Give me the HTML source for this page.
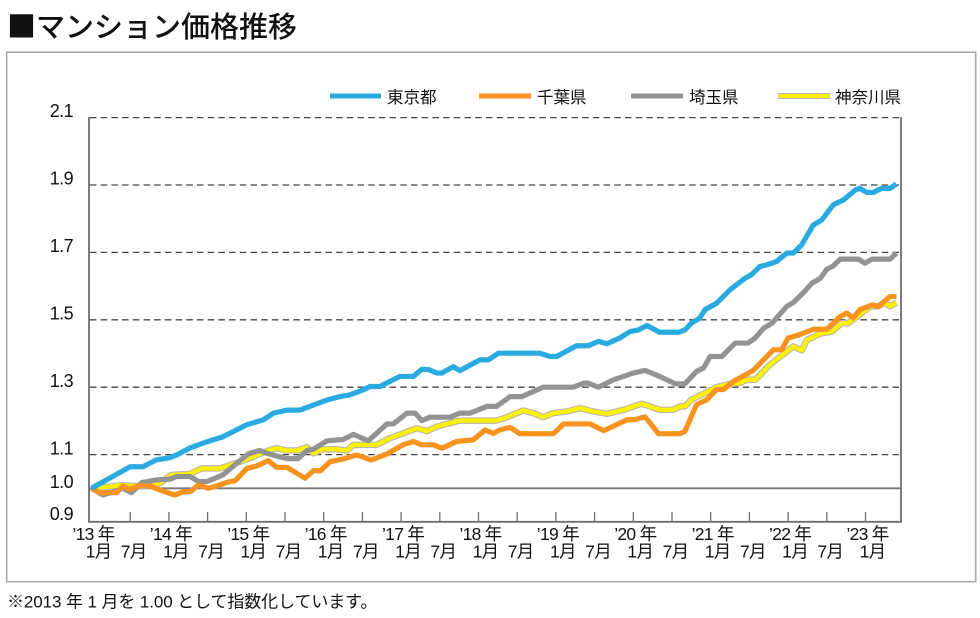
<!DOCTYPE html>
<html><head><meta charset="utf-8"><style>
html,body{margin:0;padding:0;background:#fff;}
body{width:980px;height:618px;overflow:hidden;}
svg{display:block;}
.t{font-family:"Liberation Sans","Noto Sans CJK JP",sans-serif;fill:#111;}
.s{fill:none;stroke-linejoin:round;stroke-linecap:butt;}
</style></head><body>
<svg width="980" height="618" viewBox="0 0 980 618" xmlns="http://www.w3.org/2000/svg">
<rect x="0" y="0" width="980" height="618" fill="#fff"/>
<!-- title -->
<text x="7" y="37" class="t" font-size="29" font-weight="500"><tspan font-family="Noto Sans CJK JP, sans-serif">■</tspan>マンション価格推移</text>
<!-- frame -->
<rect x="6.7" y="52.2" width="969" height="529.5" fill="none" stroke="#a8a8a8" stroke-width="1.6"/>
<!-- grid -->
<g stroke="#444" stroke-width="1.3" stroke-dasharray="6.5 4.2">
<line x1="90" y1="117.6" x2="901" y2="117.6"/>
<line x1="90" y1="185" x2="901" y2="185"/>
<line x1="90" y1="252.4" x2="901" y2="252.4"/>
<line x1="90" y1="319.8" x2="901" y2="319.8"/>
<line x1="90" y1="387.2" x2="901" y2="387.2"/>
<line x1="90" y1="454.6" x2="901" y2="454.6"/>
</g>
<line x1="89" y1="488.3" x2="901" y2="488.3" stroke="#777" stroke-width="1.8"/>
<!-- axes -->
<g stroke="#6e6e6e" stroke-width="1.8" fill="none">
<line x1="89" y1="117" x2="89" y2="522.5"/>
<line x1="88.1" y1="521.8" x2="901.9" y2="521.8"/>
<line x1="901" y1="117" x2="901" y2="522.5"/>
</g>
<g stroke="#6e6e6e" stroke-width="1.3">
<line x1="130.2" y1="512" x2="130.2" y2="522"/>
<line x1="168.9" y1="512" x2="168.9" y2="522"/>
<line x1="207.6" y1="512" x2="207.6" y2="522"/>
<line x1="246.3" y1="512" x2="246.3" y2="522"/>
<line x1="285" y1="512" x2="285" y2="522"/>
<line x1="323.7" y1="512" x2="323.7" y2="522"/>
<line x1="362.4" y1="512" x2="362.4" y2="522"/>
<line x1="401.1" y1="512" x2="401.1" y2="522"/>
<line x1="439.8" y1="512" x2="439.8" y2="522"/>
<line x1="478.5" y1="512" x2="478.5" y2="522"/>
<line x1="517.2" y1="512" x2="517.2" y2="522"/>
<line x1="555.9" y1="512" x2="555.9" y2="522"/>
<line x1="594.6" y1="512" x2="594.6" y2="522"/>
<line x1="633.3" y1="512" x2="633.3" y2="522"/>
<line x1="672" y1="512" x2="672" y2="522"/>
<line x1="710.7" y1="512" x2="710.7" y2="522"/>
<line x1="749.4" y1="512" x2="749.4" y2="522"/>
<line x1="788.1" y1="512" x2="788.1" y2="522"/>
<line x1="826.8" y1="512" x2="826.8" y2="522"/>
<line x1="865.5" y1="512" x2="865.5" y2="522"/>
</g>
<!-- y labels -->
<g class="t" font-size="18" text-anchor="end" letter-spacing="-0.6">
<text x="73" y="117">2.1</text>
<text x="73" y="184.5">1.9</text>
<text x="73" y="252">1.7</text>
<text x="73" y="319.5">1.5</text>
<text x="73" y="387">1.3</text>
<text x="73" y="454.5">1.1</text>
<text x="73" y="488">1.0</text>
<text x="73" y="520">0.9</text>
</g>
<!-- x labels -->
<g class="t" font-size="17.5" text-anchor="middle" letter-spacing="-0.7">
<text x="93.5" y="540">’13 年</text>
<text x="170.9" y="540">’14 年</text>
<text x="248.3" y="540">’15 年</text>
<text x="325.7" y="540">’16 年</text>
<text x="403.1" y="540">’17 年</text>
<text x="480.5" y="540">’18 年</text>
<text x="557.9" y="540">’19 年</text>
<text x="635.3" y="540">’20 年</text>
<text x="712.7" y="540">’21 年</text>
<text x="790.1" y="540">’22 年</text>
<text x="867.5" y="540">’23 年</text>
<text x="98.5" y="557.5">1月</text>
<text x="133.7" y="557.5">7月</text>
<text x="175.9" y="557.5">1月</text>
<text x="211.1" y="557.5">7月</text>
<text x="253.3" y="557.5">1月</text>
<text x="288.5" y="557.5">7月</text>
<text x="330.7" y="557.5">1月</text>
<text x="365.9" y="557.5">7月</text>
<text x="408.1" y="557.5">1月</text>
<text x="443.3" y="557.5">7月</text>
<text x="485.5" y="557.5">1月</text>
<text x="520.7" y="557.5">7月</text>
<text x="562.9" y="557.5">1月</text>
<text x="598.1" y="557.5">7月</text>
<text x="640.3" y="557.5">1月</text>
<text x="675.5" y="557.5">7月</text>
<text x="717.7" y="557.5">1月</text>
<text x="752.9" y="557.5">7月</text>
<text x="795.1" y="557.5">1月</text>
<text x="830.3" y="557.5">7月</text>
<text x="872.5" y="557.5">1月</text>
</g>
<!-- series -->
<g transform="matrix(6.45 0 0 -337 91.5 825.3)">
<polyline class="s" vector-effect="non-scaling-stroke" stroke="#b9b9a8" stroke-width="6.5" points="0,1 2.9,1.005 4.9,1.01 6.5,1.007 8.6,1.007 10.6,1.015 12.4,1.04 15.3,1.043 17.1,1.059 19.9,1.059 22,1.072 24.1,1.086 27.7,1.114 28.7,1.119 30.3,1.112 31.8,1.112 33.4,1.122 34.4,1.104 35.9,1.116 38,1.116 39.6,1.112 40.6,1.129 44.2,1.129 46.3,1.149 50.4,1.178 52,1.17 53.5,1.183 57.1,1.201 62.8,1.201 64.4,1.211 66.9,1.231 68.5,1.223 70,1.211 71.6,1.223 73.7,1.228 75.7,1.238 77.8,1.228 79.9,1.221 82.5,1.233 85.3,1.251 88.1,1.233 90.2,1.233 91.2,1.243 92,1.243 93,1.263 96.9,1.3 99,1.31 100.5,1.312 101.6,1.322 102.9,1.322 105.2,1.367 108.8,1.421 110.1,1.409 110.9,1.44 113,1.459 114.8,1.465 116.3,1.49 117.3,1.49 119.1,1.515 120.7,1.54 122,1.54 123,1.551 123.8,1.54 124.8,1.551"/>
<polyline class="s" vector-effect="non-scaling-stroke" stroke="#fff200" stroke-width="4.2" points="0,1 2.9,1.005 4.9,1.01 6.5,1.007 8.6,1.007 10.6,1.015 12.4,1.04 15.3,1.043 17.1,1.059 19.9,1.059 22,1.072 24.1,1.086 27.7,1.114 28.7,1.119 30.3,1.112 31.8,1.112 33.4,1.122 34.4,1.104 35.9,1.116 38,1.116 39.6,1.112 40.6,1.129 44.2,1.129 46.3,1.149 50.4,1.178 52,1.17 53.5,1.183 57.1,1.201 62.8,1.201 64.4,1.211 66.9,1.231 68.5,1.223 70,1.211 71.6,1.223 73.7,1.228 75.7,1.238 77.8,1.228 79.9,1.221 82.5,1.233 85.3,1.251 88.1,1.233 90.2,1.233 91.2,1.243 92,1.243 93,1.263 96.9,1.3 99,1.31 100.5,1.312 101.6,1.322 102.9,1.322 105.2,1.367 108.8,1.421 110.1,1.409 110.9,1.44 113,1.459 114.8,1.465 116.3,1.49 117.3,1.49 119.1,1.515 120.7,1.54 122,1.54 123,1.551 123.8,1.54 124.8,1.551"/>
<polyline class="s" vector-effect="non-scaling-stroke" stroke="#939393" stroke-width="5.2" points="0,1 1.8,0.98 3.4,0.99 4.9,1 6.2,0.987 7.8,1.017 10.1,1.025 12.2,1.027 13.2,1.035 15.3,1.035 16.6,1.02 17.9,1.02 20.4,1.04 22,1.066 24.3,1.102 26.1,1.112 27.2,1.104 28.7,1.096 30.3,1.088 32,1.088 33.4,1.112 34.4,1.116 36.5,1.141 39,1.145 40.6,1.16 42.9,1.141 44.2,1.163 45.8,1.191 46.8,1.191 48.9,1.223 50.2,1.223 51.2,1.201 52.5,1.211 55.6,1.211 57.1,1.223 58.7,1.223 61.3,1.243 62.8,1.243 64.9,1.272 66.7,1.272 70,1.3 74.7,1.3 76.3,1.312 77,1.312 78.6,1.3 80.9,1.322 84,1.342 85.8,1.35 88.1,1.332 90.5,1.31 92,1.31 93.8,1.347 94.9,1.357 95.9,1.391 97.7,1.391 99.8,1.431 101.8,1.431 102.9,1.446 104.2,1.475 105.5,1.49 107.8,1.54 108.8,1.551 110.4,1.581 111.7,1.609 113,1.623 114,1.65 115,1.66 116.1,1.68 118.9,1.68 119.9,1.668 121,1.68 123.8,1.68 124.8,1.698"/>
<polyline class="s" vector-effect="non-scaling-stroke" stroke="#f7931e" stroke-width="5.2" points="0,1 1.3,0.987 3.9,0.987 4.9,1.007 5.9,0.997 7.3,1.007 9.1,1.007 10.6,0.995 12.9,0.98 14.2,0.99 15.3,0.99 16.6,1.01 18.1,1 19.4,1.007 20.9,1.017 22.3,1.023 24.1,1.059 25.6,1.066 27.4,1.082 28.7,1.062 30.3,1.062 33.1,1.03 34.4,1.052 35.5,1.052 37,1.079 39,1.087 41.1,1.099 43.4,1.084 45.8,1.102 48.3,1.129 49.9,1.139 51.2,1.129 53,1.129 54.3,1.119 56.6,1.139 59.2,1.144 61,1.173 62.3,1.163 63.3,1.173 64.9,1.181 66.4,1.162 71.6,1.162 73.2,1.191 77.3,1.191 79.4,1.171 83,1.203 84.3,1.204 85.8,1.212 86.6,1.194 87.9,1.162 91.2,1.162 92,1.169 93.8,1.248 95.4,1.263 96.9,1.293 98,1.293 99.5,1.317 102.6,1.35 104.7,1.391 105.7,1.411 107,1.411 108,1.446 109.8,1.456 111.9,1.472 114,1.472 116.1,1.51 117.1,1.52 118.1,1.505 119.1,1.53 121,1.544 122,1.54 123.8,1.569 124.8,1.569"/>
<polyline class="s" vector-effect="non-scaling-stroke" stroke="#29abe2" stroke-width="5.2" points="0,1 6,1.064 8,1.064 10,1.084 12,1.09 13.2,1.099 15.3,1.12 17.9,1.138 20.4,1.153 24,1.188 26.6,1.203 28.2,1.223 30.3,1.232 32.3,1.232 34.4,1.247 36.5,1.262 38.5,1.272 40,1.277 42.1,1.292 43.2,1.302 44.7,1.302 47.8,1.332 49.9,1.332 51.2,1.353 52.2,1.353 53.5,1.342 54.3,1.342 56.1,1.361 57.1,1.349 60.2,1.381 61.5,1.381 63.1,1.401 69.5,1.401 71.1,1.391 72.1,1.391 75.2,1.423 77,1.423 78.6,1.436 79.9,1.429 81.9,1.446 83.5,1.465 84.8,1.47 86.1,1.483 88.1,1.463 91,1.463 92,1.47 93,1.49 94.3,1.505 95.1,1.53 96.9,1.549 99,1.589 100,1.604 101.3,1.623 102.4,1.635 103.6,1.658 104.7,1.663 106.2,1.673 107.8,1.698 108.8,1.698 110.1,1.722 111.9,1.781 113.2,1.796 115,1.841 116.6,1.856 118.4,1.885 119.1,1.89 120.2,1.878 121.2,1.878 122.5,1.89 123.8,1.89 124.8,1.903"/>
</g>
<!-- legend -->
<line x1="330" y1="96" x2="381" y2="96" stroke="#29abe2" stroke-width="5"/>
<text x="387" y="103" class="t" font-size="16.5">東京都</text>
<line x1="479" y1="96" x2="531" y2="96" stroke="#f7931e" stroke-width="5"/>
<text x="537" y="103" class="t" font-size="16.5">千葉県</text>
<line x1="631" y1="96" x2="683" y2="96" stroke="#939393" stroke-width="5"/>
<text x="689" y="103" class="t" font-size="16.5">埼玉県</text>
<line x1="778" y1="96" x2="830" y2="96" stroke="#b9b9a8" stroke-width="6"/>
<line x1="778.6" y1="96" x2="829.4" y2="96" stroke="#fff200" stroke-width="4"/>
<text x="835" y="103" class="t" font-size="16.5">神奈川県</text>
<!-- footnote -->
<text x="7" y="607.5" class="t" font-size="17" letter-spacing="-0.1">※2013 年 1 月を 1.00 として指数化しています。</text>
</svg>
</body></html>
